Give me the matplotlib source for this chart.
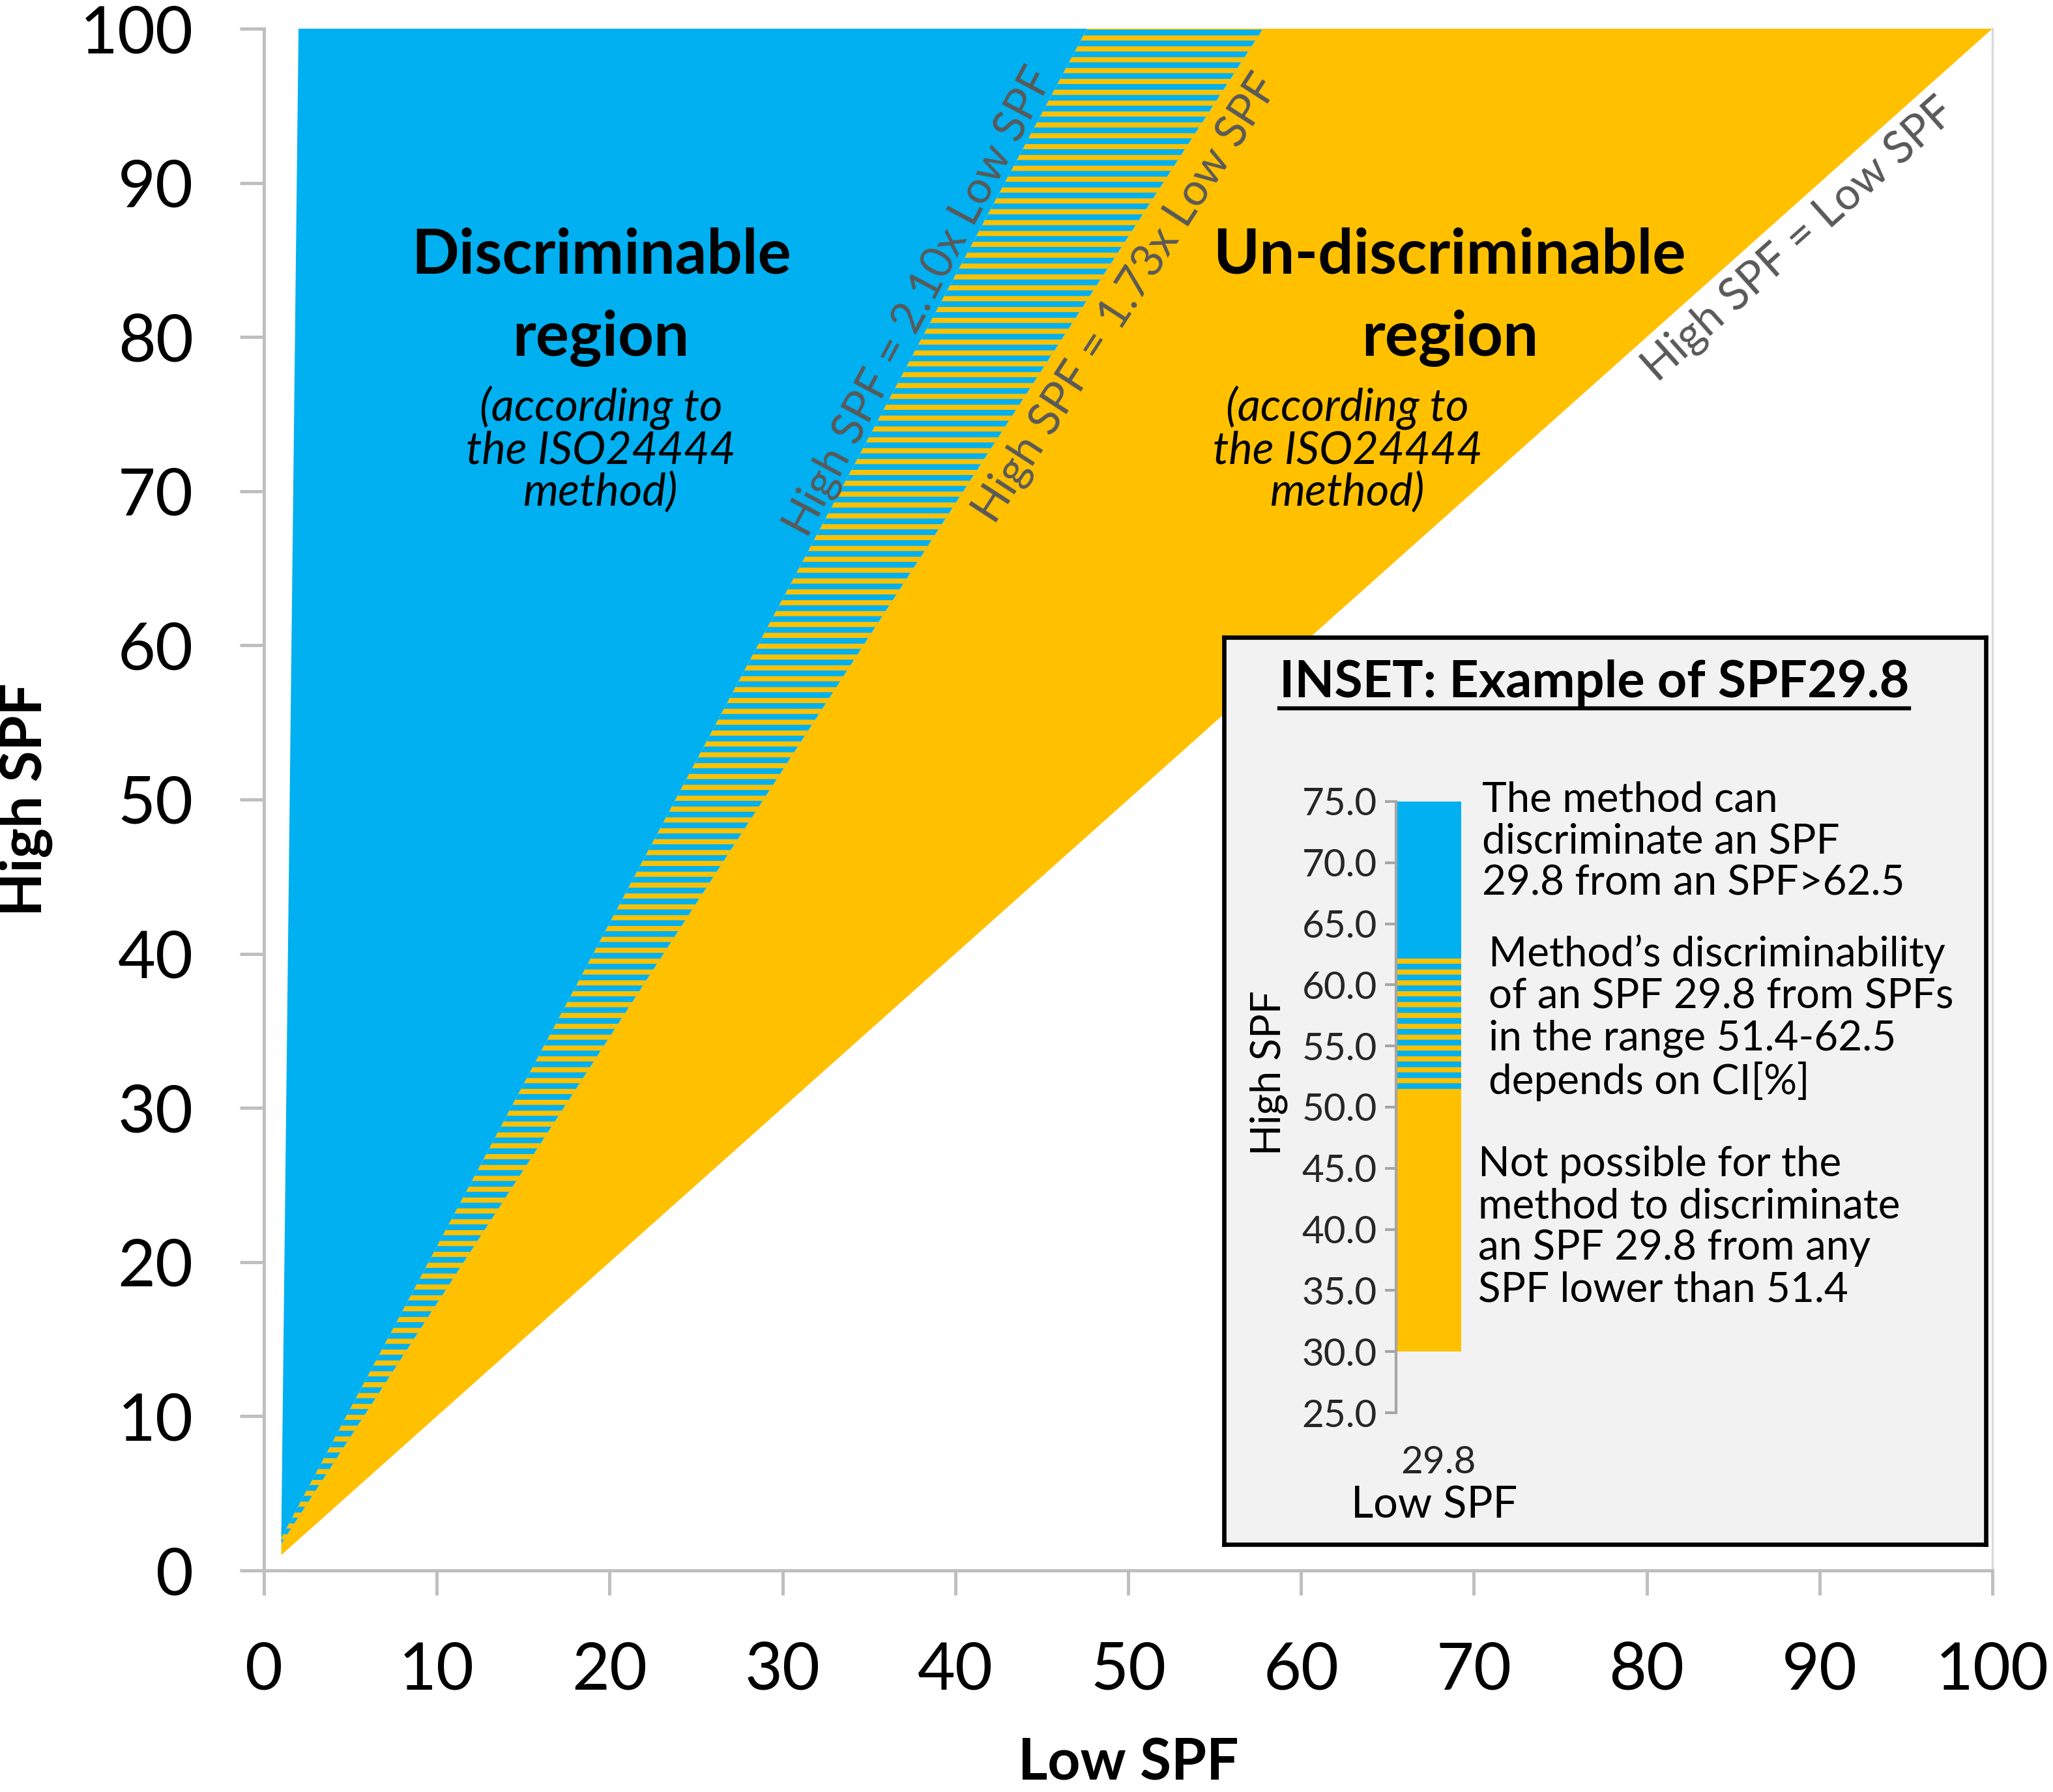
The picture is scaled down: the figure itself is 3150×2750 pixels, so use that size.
#Discriminable / un-discriminable SPF regions with an inset example for SPF 29.8
import numpy as np
import matplotlib
matplotlib.use('Agg')
import matplotlib.pyplot as plt
from matplotlib.lines import Line2D

plt.rcParams['font.family'] = ['Lato', 'DejaVu Sans']
plt.rcParams['hatch.linewidth'] = 1.9

#Region boundaries (High SPF = ratio x Low SPF)
ratio_upper = 2.10
ratio_lower = 1.73
ratio_equal = 1.00
spf_max = 100.0
#steep left edge of the discriminable area
edge_low = [1.0, 2.0]
edge_high = [2.1, 100.0]
#positions along Low SPF for the rotated line labels
label_x = [37.9, 49.9, 88.8]
label_y = [82.3, 82.5, 86.3]
label_text = ['High SPF = 2.10x Low SPF', 'High SPF = 1.73x Low SPF', 'High SPF = Low SPF']
label_angle_ratio = [ratio_upper, ratio_lower, ratio_equal]

#Inset values
inset_low = 29.8
inset_levels = [30.0, 51.4, 62.5, 75.0]
inset_yticks = np.arange(25, 76, 5)

blue = '#00B0F0'
yellow = '#FFC000'
axis_gray = '#BFBFBF'
text_gray = '#595959'

fig = plt.figure(figsize=(10.5, 2750 / 300), dpi=300)
ax = fig.add_axes([405 / 3150, 340 / 2750, 2652 / 3150, 2366 / 2750])

#Blue discriminable polygon
top_upper = spf_max / ratio_upper
top_lower = spf_max / ratio_lower
xu = np.array([edge_low[0], top_upper])
xl = np.array([edge_low[0], top_lower])
ax.fill(edge_low + [top_upper, edge_low[0]],
        edge_high + [spf_max, ratio_upper * edge_low[0]],
        color=blue, lw=0, zorder=1)

#Striped band between the two ratio lines
band_x = list(xu) + [top_lower] + [edge_low[0]]
band_y = list(ratio_upper * xu) + [spf_max] + [ratio_lower * edge_low[0]]
ax.fill(band_x, band_y, facecolor=blue, edgecolor=yellow, lw=0, hatch='---', zorder=2)

#Yellow un-discriminable polygon
yel_x = list(xl) + [spf_max, edge_low[0]]
yel_y = list(ratio_lower * xl) + [spf_max, ratio_equal * edge_low[0]]
ax.fill(yel_x, yel_y, color=yellow, lw=0, zorder=1)

ax.set_xlim(0, 100)
ax.set_ylim(0, 100)
ax.set_xticks(np.arange(0, 101, 10))
ax.set_yticks(np.arange(0, 101, 10))
ax.spines['top'].set_visible(False)
for side in ['left', 'bottom']:
    ax.spines[side].set_color(axis_gray)
    ax.spines[side].set_linewidth(1.2)
ax.spines['right'].set_color('#D9D9D9')
ax.spines['right'].set_linewidth(0.8)
ax.tick_params(direction='out', length=9, width=1.2, color=axis_gray,
               labelsize=24, pad=17)
ax.tick_params(axis='y', right=False)
ax.set_xlabel('Low SPF', fontsize=21, fontweight='bold')
ax.set_ylabel('High SPF', fontsize=21, fontweight='bold')
ax.xaxis.set_label_coords(0.5, -0.108)
ax.yaxis.set_label_coords(-0.122, 0.5)

#Region labels
ax.text(19.5, 82.6, 'Discriminable\nregion', ha='center', va='center',
        fontsize=23, fontweight='bold', linespacing=1.55, zorder=3)
ax.text(19.5, 72.7, '(according to\nthe ISO24444\nmethod)', ha='center', va='center',
        fontsize=16.5, style='italic', linespacing=1.0, zorder=3)
ax.text(68.6, 82.6, 'Un-discriminable\nregion', ha='center', va='center',
        fontsize=23, fontweight='bold', linespacing=1.55, zorder=3)
ax.text(62.7, 72.7, '(according to\nthe ISO24444\nmethod)', ha='center', va='center',
        fontsize=16.5, style='italic', linespacing=1.0, zorder=3)

for lx, ly, txt, r in zip(label_x, label_y, label_text, label_angle_ratio):
    ax.text(lx, ly, txt, ha='center', va='center', color=text_gray, fontsize=16.5,
            rotation=np.degrees(np.arctan(r)), rotation_mode='anchor',
            transform_rotates_text=True, zorder=3)

#Inset box
box = fig.add_axes([1878 / 3150, 380 / 2750, 1169 / 3150, 1392 / 2750])
box.set_facecolor('#F2F2F2')
box.set_xticks([])
box.set_yticks([])
for sp in box.spines.values():
    sp.set_color('black')
    sp.set_linewidth(1.6)
box.set_zorder(5)

title = fig.text(2446 / 3150, 1 - 1048 / 2750, 'INSET: Example of SPF29.8', ha='center',
                 va='center', fontsize=19, fontweight='bold', zorder=10)

ins = fig.add_axes([2142 / 3150, 1 - 2168 / 2750, 118 / 3150, 938 / 2750])
ins.set_zorder(6)
ins.patch.set_alpha(0)
heights = np.diff(inset_levels)
ins.bar([0], [heights[0]], bottom=inset_levels[0], width=0.85, align='edge',
        color=yellow, lw=0)
ins.bar([0], [heights[1]], bottom=inset_levels[1], width=0.85, align='edge',
        facecolor=blue, edgecolor=yellow, lw=0, hatch='---')
ins.bar([0], [heights[2]], bottom=inset_levels[2], width=0.85, align='edge',
        color=blue, lw=0)
ins.set_xlim(0, 1)
ins.set_ylim(25, 75)
ins.set_yticks(inset_yticks)
ins.set_yticklabels([f'{v:.1f}' for v in inset_yticks])
ins.set_xticks([0.55])
ins.set_xticklabels([f'{inset_low}'])
for side in ['top', 'right', 'bottom']:
    ins.spines[side].set_visible(False)
ins.spines['left'].set_color('#A6A6A6')
ins.spines['left'].set_linewidth(1.0)
ins.tick_params(axis='y', direction='out', length=4, width=1.0, color='#A6A6A6',
                labelsize=14, labelcolor='#262626', pad=3)
ins.tick_params(axis='x', length=0, labelsize=14, labelcolor='#262626', pad=12)
ins.set_xlabel('Low SPF', fontsize=16, labelpad=2)
ins.set_ylabel('High SPF', fontsize=15)
ins.yaxis.set_label_coords(-1.41, 0.556)

inset_notes = [
    (2274, 1198, 'The method can\ndiscriminate an SPF\n29.8 from an SPF>62.5'),
    (2284, 1434, 'Method\u2019s discriminability\nof an SPF 29.8 from SPFs\nin the range 51.4-62.5\ndepends on CI[%]'),
    (2268, 1758, 'Not possible for the\nmethod to discriminate\nan SPF 29.8 from any\nSPF lower than 51.4'),
]
for nx, ny, txt in inset_notes:
    fig.text(nx / 3150, 1 - ny / 2750, txt, ha='left', va='top', fontsize=15.3,
             linespacing=1.13, zorder=10)

#underline the inset title
fig.canvas.draw()
bb = title.get_window_extent().transformed(fig.transFigure.inverted())
fig.add_artist(Line2D([bb.x0, bb.x1], [bb.y0 - 0.001, bb.y0 - 0.001],
                      transform=fig.transFigure, color='black', lw=1.5, zorder=10))

plt.savefig('out.png', dpi=300)
